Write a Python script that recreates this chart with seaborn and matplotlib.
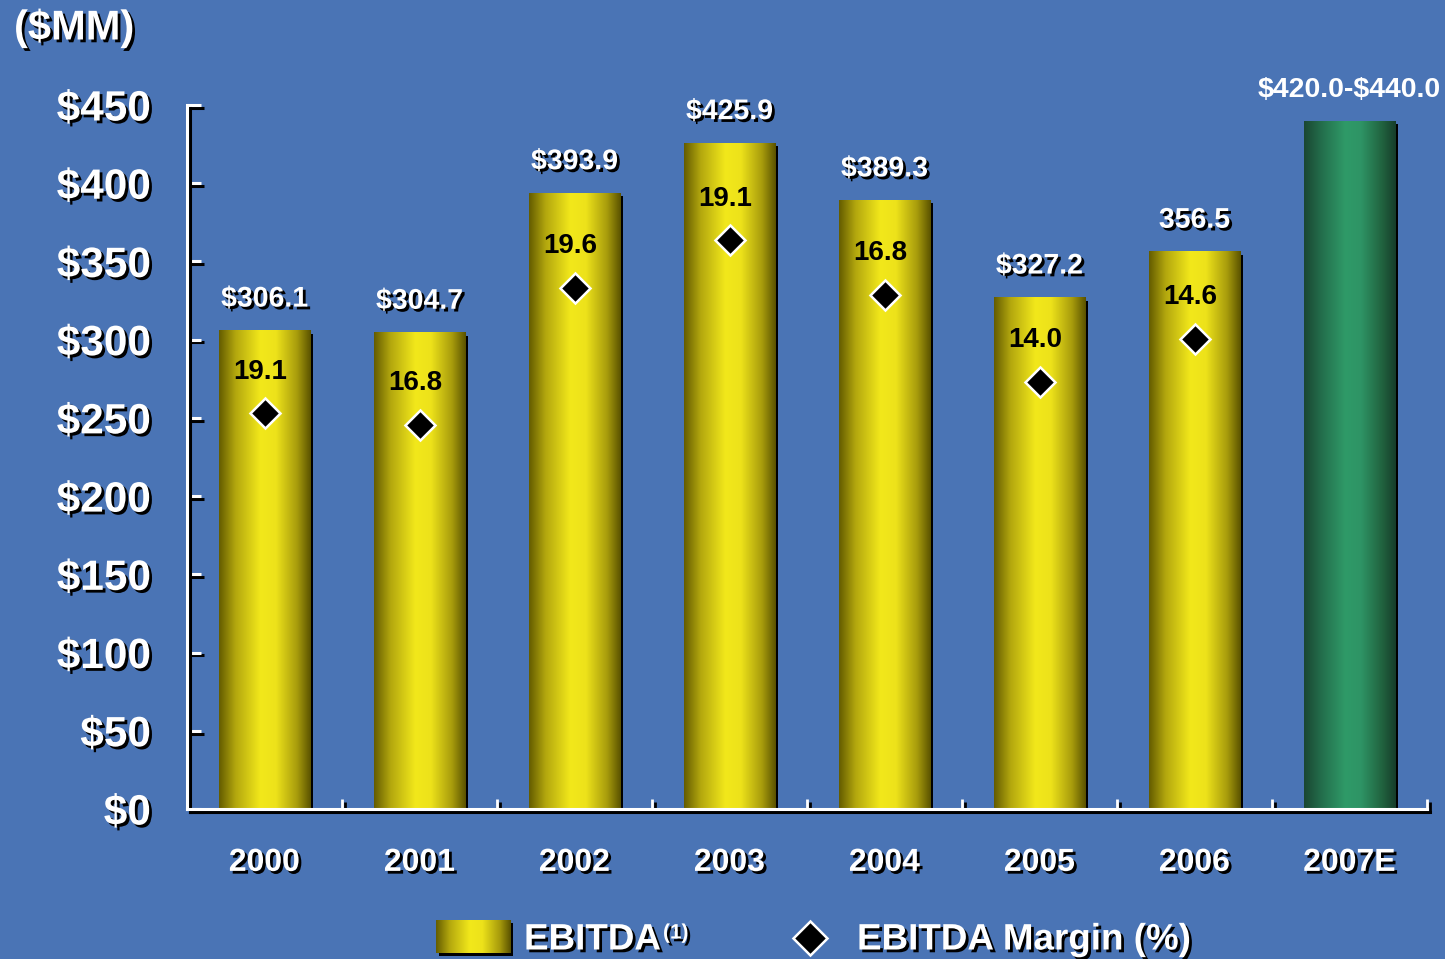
import numpy as np
import pandas as pd
import matplotlib
matplotlib.use("Agg")
import matplotlib.pyplot as plt
import matplotlib.patheffects as pe
from matplotlib.colors import LinearSegmentedColormap
from matplotlib.lines import Line2D
from matplotlib.patches import Rectangle
import seaborn as sns

# ---------------- data ----------------
years = ["2000", "2001", "2002", "2003", "2004", "2005", "2006", "2007E"]
ebitda = [306.1, 304.7, 393.9, 425.9, 389.3, 327.2, 356.5, 440.0]
ebitda_labels = ["$306.1", "$304.7", "$393.9", "$425.9", "$389.3", "$327.2", "356.5", "$420.0-$440.0"]
bar_kind = ["actual"] * 7 + ["estimate"]
margin_years = ["2000", "2001", "2002", "2003", "2004", "2005", "2006"]
margin_labels = ["19.1", "16.8", "19.6", "19.1", "16.8", "14.0", "14.6"]
margin_marker_y = [253.0, 245.5, 333.0, 363.5, 328.5, 273.0, 300.5]
y_ticks = [0, 50, 100, 150, 200, 250, 300, 350, 400, 450]

# ---------------- style ----------------
BG = "#4A74B5"
sns.set_theme(style="white")
plt.rcParams["font.family"] = ["Liberation Sans", "DejaVu Sans"]
plt.rcParams["font.weight"] = "bold"

yellow_cmap = LinearSegmentedColormap.from_list(
    "yel", [(0.0, "#645C00"), (0.18, "#B3A70E"), (0.45, "#F2E81B"),
            (0.62, "#EDE21A"), (0.85, "#A89C0C"), (1.0, "#5A5200")])
green_cmap = LinearSegmentedColormap.from_list(
    "grn", [(0.0, "#1A4732"), (0.2, "#24704D"), (0.45, "#2F9A68"),
            (0.62, "#2E9465"), (0.85, "#21633F"), (1.0, "#163D2A")])

shadow = [pe.withSimplePatchShadow(offset=(2, -2), shadow_rgbFace="black", alpha=1.0)]
line_shadow = [pe.SimpleLineShadow(offset=(2, -2), shadow_color="black", alpha=1.0), pe.Normal()]

fig = plt.figure(figsize=(14.45, 9.59), dpi=100)
fig.patch.set_facecolor(BG)
ax = fig.add_axes([187 / 1445, 150 / 959, 1240 / 1445, 704 / 959])
ax.set_facecolor(BG)

df = pd.DataFrame({"year": years, "ebitda": ebitda, "kind": bar_kind})
sns.barplot(data=df, x="year", y="ebitda", hue="year", order=years, hue_order=years,
            palette=["#EDE21A"] * 7 + ["#2F9A68"], width=0.59, legend=False,
            saturation=1, ax=ax, zorder=2)

grad = np.linspace(0, 1, 256).reshape(1, -1)
for bar in ax.patches:
    x0, w, h = bar.get_x(), bar.get_width(), bar.get_height()
    idx = int(round(x0 + w / 2))
    cmap = green_cmap if bar_kind[idx] == "estimate" else yellow_cmap
    bar.set_edgecolor("none")
    bar.set_path_effects([pe.SimplePatchShadow(offset=(2.2, -2.5), shadow_rgbFace="black", alpha=1.0),
                          pe.Normal()])
    im = ax.imshow(grad, cmap=cmap, extent=[x0, x0 + w, 0, h], aspect="auto",
                   interpolation="bilinear", zorder=3)
    im.set_clip_path(bar)

# diamonds (EBITDA margin)
mx = [years.index(y) for y in margin_years]
ax.plot(mx, margin_marker_y, linestyle="none", marker="D", markersize=15,
        markerfacecolor="black", markeredgecolor="white", markeredgewidth=1.8, zorder=5)

# labels
for i, (v, t) in enumerate(zip(ebitda, ebitda_labels)):
    kw = dict(xytext=(0, 22), textcoords="offset points", ha="center", va="center",
              fontsize=20.5, color="white", fontweight="bold", zorder=6,
              annotation_clip=False, parse_math=False)
    if bar_kind[i] != "estimate":
        kw["path_effects"] = shadow
    ax.annotate(t, (i, v), **kw)
for x, y, t in zip(mx, margin_marker_y, margin_labels):
    ax.annotate(t, (x, y), xytext=(-3, 30), textcoords="offset points",
                ha="center", va="center", fontsize=20, color="black",
                fontweight="bold", zorder=6)

# axes
ax.set_xlim(-0.5, 7.5)
ax.set_ylim(0, 450)
ax.set_xlabel("")
ax.set_ylabel("")
ax.set_yticks(y_ticks)
ax.set_yticklabels([f"${v}" for v in y_ticks])
ax.set_xticks(range(len(years)))
ax.set_xticklabels(years)
ax.set_xticks(np.arange(0.5, 8, 1), minor=True)
ax.tick_params(axis="y", which="major", direction="in", length=10, width=2.2,
               color="white", labelcolor="white", labelsize=30.5, pad=26, left=True)
ax.tick_params(axis="x", which="major", length=0, labelcolor="white", labelsize=23, pad=28)
ax.tick_params(axis="x", which="minor", direction="in", length=7, width=2,
               color="white", bottom=True)
for s in ["top", "right"]:
    ax.spines[s].set_visible(False)
for s in ["left", "bottom"]:
    ax.spines[s].set_color("white")
    ax.spines[s].set_linewidth(2.2)
    ax.spines[s].set_path_effects(line_shadow)
    ax.spines[s].set_zorder(4)
for lab in ax.get_xticklabels() + ax.get_yticklabels():
    lab.set_fontweight("bold")
    lab.set_path_effects(shadow)
for t in ax.yaxis.get_major_ticks() + ax.xaxis.get_minor_ticks():
    t.tick1line.set_path_effects(line_shadow)

# unit label
fig.text(14 / 1445, 1 - 28 / 959, "($MM)", ha="left", va="center", fontsize=30,
         color="white", fontweight="bold", path_effects=shadow, parse_math=False)

# legend (manual)
fig.patches.append(Rectangle((439 / 1445, 3 / 959), 74 / 1445, 33 / 959,
                             transform=fig.transFigure, facecolor="black",
                             edgecolor="none", zorder=-1))
lax = fig.add_axes([436 / 1445, 6 / 959, 74 / 1445, 33 / 959])
lax.imshow(grad, cmap=yellow_cmap, aspect="auto", extent=[0, 1, 0, 1], interpolation="bilinear")
lax.axis("off")
fig.text(524 / 1445, 1 - 940 / 959, "EBITDA", ha="left", va="center", fontsize=26.5,
         color="white", fontweight="bold", path_effects=shadow)
fig.text(663 / 1445, 1 - 933 / 959, "(1)", ha="left", va="center", fontsize=15,
         color="white", fontweight="bold", path_effects=shadow)
fig.add_artist(Line2D([810 / 1445], [1 - 938 / 959], transform=fig.transFigure,
                      marker="D", markersize=17, markerfacecolor="black",
                      markeredgecolor="white", markeredgewidth=1.8, linestyle="none"))
fig.text(857 / 1445, 1 - 940 / 959, "EBITDA Margin (%)", ha="left", va="center",
         fontsize=26.5, color="white", fontweight="bold", path_effects=shadow)

fig.savefig("out.png", dpi=100, facecolor=BG)
